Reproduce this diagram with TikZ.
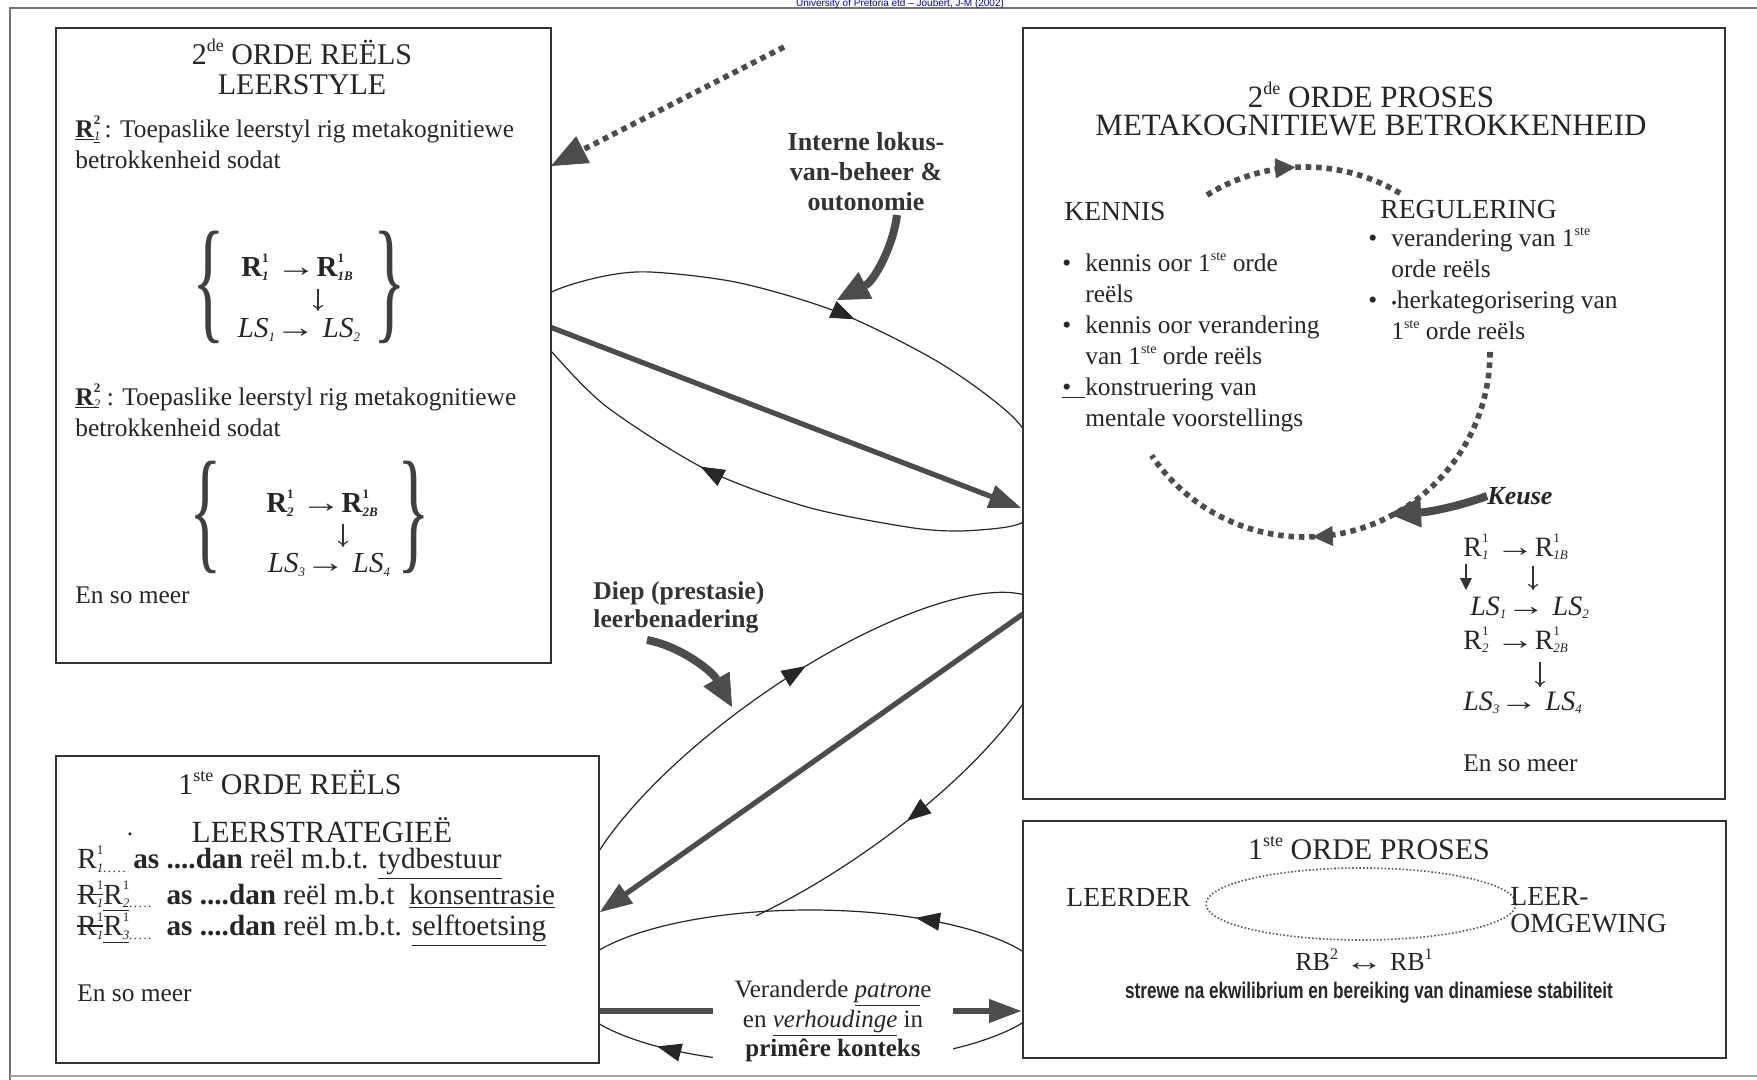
\documentclass[tikz,border=0pt]{standalone}
\usepackage{fontspec}
\setmainfont{Liberation Serif}
\newfontfamily\narrowsans[FakeStretch=0.76]{Liberation Sans}
\newfontfamily\plainsans{Liberation Sans}
\usetikzlibrary{arrows.meta,positioning,decorations.markings,backgrounds}

% R with stacked super- and subscript, LS with subscript
\newcommand{\sups}[1]{\raisebox{0.5em}{\fontsize{6.5}{6.5}\selectfont #1}}
\newcommand{\subs}[1]{\raisebox{-0.12em}{\fontsize{6.5}{6.5}\selectfont\itshape #1}}
\newcommand{\ord}[2][7]{\raisebox{0.42em}{\fontsize{#1}{#1}\selectfont #2}}
\newcommand{\rr}[2]{R\rlap{\sups{#1}}\subs{#2}}
\newcommand{\ls}[1]{\textit{LS\subs{#1}}}
\newcommand{\rarr}{\scalebox{1.4}[1]{→}}
\newcommand{\trail}{\subs{.\kern0.8pt.\kern0.8pt.\kern0.8pt.\kern0.8pt.}}
\newcommand{\strikeout}[1]{\setbox0\hbox{#1}\rlap{\rule[0.32em]{\wd0}{0.6pt}}\box0}

\tikzset{
  panel/.style={draw=black!80, line width=0.9pt, fill=white, inner sep=0pt},
  heading/.style={font=\fontsize{15}{16}\selectfont, text=black!85, align=center, inner sep=0pt},
  body/.style={font=\fontsize{12.7}{15.5}\selectfont, text=black!85, align=left, inner sep=0pt},
  formula/.style={font=\fontsize{14}{15}\selectfont, text=black!85, inner sep=0pt},
  tag/.style={font=\fontsize{13}{15}\selectfont\bfseries, text=black!80, align=center, inner sep=0pt},
  brace/.style={font=\fontsize{34}{34}\selectfont, text=black!75, inner sep=0pt},
  thickarrow/.style={draw=black!70, line width=2.6pt, -{Triangle[length=16pt,width=12pt,line width=0.4pt]}},
  bentarrow/.style={draw=black!70, line width=4pt, -{Triangle[length=16pt,width=15pt,line width=0.4pt]}},
  downarrow/.style={draw=black!80, line width=0.6pt, -{To[length=3pt,width=5pt]}},
  loopline/.style={draw=black!85, line width=0.6pt},
  squaredots/.style={draw=black!70, line width=2.8pt, dash pattern=on 2.8pt off 2.4pt},
  midtip/.style={postaction={decorate}, decoration={markings,
      mark=at position #1 with {\arrow{Triangle[length=12pt,width=9pt,line width=0.4pt]}}}},
  dottip/.style={postaction={decorate}, decoration={markings,
      mark=at position #1 with {\arrow{Triangle[length=10pt,width=10pt,line width=0.4pt]}}}},
}

\begin{document}
\begin{tikzpicture}[x=0.5pt,y=-0.5pt]

  \useasboundingbox (0,0) rectangle (1757,1080);

  % ── panels ──────────────────────────────────────────────────────────
  \node[panel, anchor=north west, minimum width=247.5pt, minimum height=317.5pt] (lstyle) at (55,27) {};
  \node[panel, anchor=north west, minimum width=271.5pt, minimum height=153.5pt] (lstrat) at (55,755) {};
  \node[panel, anchor=north west, minimum width=351pt, minimum height=385.5pt] (metaproc) at (1022,27) {};
  \node[panel, anchor=north west, minimum width=351.5pt, minimum height=118.5pt] (firstproc) at (1022,820) {};

  % ── 2de orde reëls: leerstyle ───────────────────────────────────────
  \node[heading] (lsTitle) at (302,52) {2\ord[9]{de} ORDE REËLS};
  \node[heading] (lsSub) at (302,85) {LEERSTYLE};
  \node[body, anchor=west] (lsRuleA) at (75,142)
    {\underline{\textbf{R}}\rlap{\sups{\textbf{2}}}\subs{\underline{1}}\,: Toepaslike leerstyl rig metakognitiewe\\betrokkenheid sodat};
  \node[brace] (braceAl) at (209,287) {\scalebox{1}[2.0]{\{}};
  \node[brace] (braceAr) at (390,287) {\scalebox{1}[2.0]{\}}};
  \node[formula, font=\fontsize{14.5}{15}\selectfont] (fATop) at (297,267) {\textbf{\rr{1}{1} \rarr\rr{1}{1B}}};
  \node[formula, font=\fontsize{14.5}{15}\selectfont] (fABot) at (299,330) {\ls1\rarr\ \ls2};
  \draw[downarrow] (318,289) -- (318,311);

  \node[body, anchor=west] (lsRuleB) at (75,410)
    {\underline{\textbf{R}}\rlap{\sups{\textbf{2}}}\subs{2} : Toepaslike leerstyl rig metakognitiewe\\betrokkenheid sodat};
  \node[brace] (braceBl) at (206,517) {\scalebox{1}[2.0]{\{}};
  \node[brace] (braceBr) at (414,517) {\scalebox{1}[2.0]{\}}};
  \node[formula, font=\fontsize{14.5}{15}\selectfont] (fBTop) at (322,503) {\textbf{\rr{1}{2} \rarr\rr{1}{2B}}};
  \node[formula, font=\fontsize{14.5}{15}\selectfont] (fBBot) at (329,565) {\ls3\rarr\ \ls4};
  \draw[downarrow] (343,524) -- (343,547);
  \node[body, anchor=west] (lsMore) at (75,595) {En so meer};

  % ── 1ste orde reëls: leerstrategieë ─────────────────────────────────
  \node[heading] (stTitle) at (290,782) {1\ord[9]{ste} ORDE REËLS};
  \node[body] (stDot) at (130,834) {.};
  \node[heading, font=\fontsize{15.4}{16}\selectfont] (stSub) at (322,830) {LEERSTRATEGIEË};
  \node[body, anchor=west, font=\fontsize{14.6}{15.8}\selectfont] (stRules) at (77,896)
    {\rr{1}{1}\trail\ \textbf{as ....dan} reël m.b.t. \underline{tydbestuur}\\
     \strikeout{\rr{1}{1}}\underline{\rr{1}{2}}\trail\ \ \textbf{as ....dan} reël m.b.t\ \ \underline{konsentrasie}\\
     \strikeout{\rr{1}{1}}\underline{\rr{1}{3}}\trail\ \ \textbf{as ....dan} reël m.b.t. \underline{selftoetsing}};
  \node[body, anchor=west] (stMore) at (77,993) {En so meer};

  % ── 2de orde proses ─────────────────────────────────────────────────
  \node[heading, font=\fontsize{15.5}{16}\selectfont] (mpTitle) at (1371,95) {2\ord[9]{de} ORDE PROSES};
  \node[heading, font=\fontsize{15.5}{16}\selectfont] (mpSub) at (1371,125) {METAKOGNITIEWE BETROKKENHEID};
  \node[formula, font=\fontsize{13.8}{15}\selectfont, anchor=west] (kennis) at (1064,212) {KENNIS};
  \node[formula, font=\fontsize{13.8}{15}\selectfont, anchor=west] (regulering) at (1380,210) {REGULERING};
  \node[body, anchor=north west] (kennisList) at (1062,249)
    {\begin{tabular}{@{}l@{\hspace{7pt}}l@{}}
      \textbullet & kennis oor 1\ord{ste} orde\\
       & reëls\\
      \textbullet & kennis oor verandering\\
       & van 1\ord{ste} orde reëls\\
      \rlap{\underline{\hphantom{\textbullet}\hspace{7pt}}}\textbullet & konstruering van\\
       & mentale voorstellings
     \end{tabular}};
  \node[body, anchor=north west] (regList) at (1368,224)
    {\begin{tabular}{@{}l@{\hspace{7pt}}l@{}}
      \textbullet & verandering van 1\ord{ste}\\
       & orde reëls\\
      \textbullet & {\fontsize{8}{8}\selectfont\textbullet}herkategorisering van\\
       & 1\ord{ste} orde reëls
     \end{tabular}};

  \node[formula, font=\fontsize{13}{15}\bfseries\itshape\selectfont, anchor=west] (keuse) at (1487,496) {Keuse};
  \node[formula, anchor=west] (cTop) at (1463,547) {\rr{1}{1} \rarr\rr{1}{1B}};
  \node[formula, anchor=west] (cMid) at (1470,608) {\ls1\rarr\ \ls2};
  \node[formula, anchor=west] (cTopB) at (1463,640) {\rr{1}{2} \rarr\rr{1}{2B}};
  \node[formula, anchor=west] (cBot) at (1463,703) {\ls3\rarr\ \ls4};
  \draw[downarrow] (1533,566) -- (1533,590);
  \draw[downarrow] (1540,662) -- (1540,687);
  \draw[black!80, line width=1.4pt, -{Triangle[length=6pt,width=6pt,line width=0.4pt]}] (1466,564) -- (1466,590);
  \node[body, anchor=west] (cMore) at (1463,763) {En so meer};

  % ── 1ste orde proses ────────────────────────────────────────────────
  \node[heading] (fpTitle) at (1369,848) {1\ord[9]{ste} ORDE PROSES};
  \node[formula, font=\fontsize{13.8}{15}\selectfont, anchor=west] (leerder) at (1066,897) {LEERDER};
  \draw[black!65, line width=0.8pt, densely dotted] (1361,904) ellipse [x radius=155, y radius=36];
  \node[formula, font=\fontsize{13.8}{15}\selectfont, anchor=west] (leer) at (1510,896) {LEER-};
  \node[formula, font=\fontsize{13.8}{15}\selectfont, anchor=west] (omgewing) at (1510,924) {OMGEWING};
  \node[formula, font=\fontsize{13}{15}\selectfont] (rbPair) at (1364,960) {RB\ord[8]{2} \scalebox{1.5}[1]{↔} RB\ord[8]{1}};
  \node[font=\narrowsans\bfseries\fontsize{11.3}{12}\selectfont, text=black!85, inner sep=0pt] (strewe) at (1369,993)
    {strewe na ekwilibrium en bereiking van dinamiese stabiliteit};

  % ── labels between the panels ───────────────────────────────────────
  \node[tag, font=\fontsize{13}{15}\selectfont\bfseries] (interne) at (866,172) {Interne lokus-\\van-beheer \&\\outonomie};
  \node[tag, anchor=west, align=left, font=\fontsize{12.8}{14}\selectfont\bfseries] (diep) at (593,607) {Diep (prestasie)\\leerbenadering};
  \node[body, align=center, fill=white, inner xsep=11pt, inner ysep=3pt, font=\fontsize{12.5}{14.7}\selectfont] (patrone) at (833,1021)
    {Veranderde \underline{\textit{patron}}e\\en \underline{\textit{verhoudinge}} in\\\textbf{primêre konteks}};

  \node[font=\plainsans\fontsize{5}{5}\selectfont, text=blue!80!black, inner sep=0pt] (source) at (900,4)
    {University of Pretoria etd – Joubert, J-M (2002)};

  % ── connectors, behind the panels ───────────────────────────────────
  \begin{scope}[on background layer]
    \fill[white] (0,0) rectangle (1757,1080);
    \draw[black!55, line width=1.2pt] (10,1080) -- (10,8) -- (1757,8);
    \draw[black!35, line width=1pt] (10,1076) -- (1757,1076);

    \coordinate (dotStart) at (784,47);
    \coordinate (dotEnd) at (551,166);
    \draw[squaredots, -{Triangle[length=18pt,width=15pt,line width=0.4pt]}] (dotStart) -- (dotEnd);

    % loop lstyle <-> metaproc
    \draw[loopline, midtip=0.585] plot[smooth] coordinates
      {(522,322) (550,293) (600,277) (650,272) (740,283) (840,313) (940,363) (1013,417) (1050,470)};
    \draw[loopline, midtip=0.62] plot[smooth] coordinates
      {(1052,492) (1030,518) (1007,527) (957,531) (907,527) (807,507) (707,470) (607,407) (550,350) (526,320)};
    \coordinate (a1s) at (550,327);
    \coordinate (a1e) at (1021,508);
    \draw[thickarrow] (a1s) -- (a1e);

    % loop metaproc <-> lstrat
    \begin{scope}[shift={(814,773)}, rotate=35]
      \draw[loopline, midtip=0.54] (-150:285 and 94) arc[start angle=-150, end angle=0, x radius=285, y radius=94];
      \draw[loopline, midtip=0.6] (0:285 and 94) arc[start angle=0, end angle=117, x radius=285, y radius=94];
    \end{scope}
    \coordinate (a2s) at (1023,614);
    \coordinate (a2e) at (600,912);
    \draw[thickarrow] (a2s) -- (a2e);

    % loop lstrat <-> firstproc
    \coordinate (e3) at (810,987);
    \draw[loopline, midtip=0.30] (e3) ++(0:240 and 77) arc[start angle=0, end angle=-180, x radius=240, y radius=77];
    \draw[loopline, midtip=0.79] (e3) ++(0:240 and 77) arc[start angle=0, end angle=180, x radius=240, y radius=77];
    \coordinate (a3s) at (598,1011);
    \coordinate (a3e) at (1021,1011);
    \draw[thickarrow] (a3s) -- (a3e);

    % bent pointers
    \coordinate (intStart) at (897,215);
    \coordinate (intEnd) at (837,300);
    \draw[bentarrow] (intStart) .. controls (893,247) and (874,281) .. (intEnd);
    \coordinate (diepStart) at (647,640);
    \coordinate (diepEnd) at (732,707);
    \draw[bentarrow] (diepStart) .. controls (680,646) and (712,671) .. (diepEnd);
  \end{scope}

  % ── the metacognitive cycle ─────────────────────────────────────────
  \coordinate (cyc) at (1305,352);
  \draw[squaredots, dottip=0.46] (cyc) ++(-122:185) arc[start angle=-122, end angle=-59, radius=185];
  \draw[squaredots, dottip=0.6] (cyc) ++(0:185) arc[start angle=0, end angle=146, radius=185];
  \coordinate (keuseEnd) at (1389,514);
  \draw[bentarrow] (keuse.west) .. controls (1460,506) and (1430,512) .. (keuseEnd);

\end{tikzpicture}
\end{document}
